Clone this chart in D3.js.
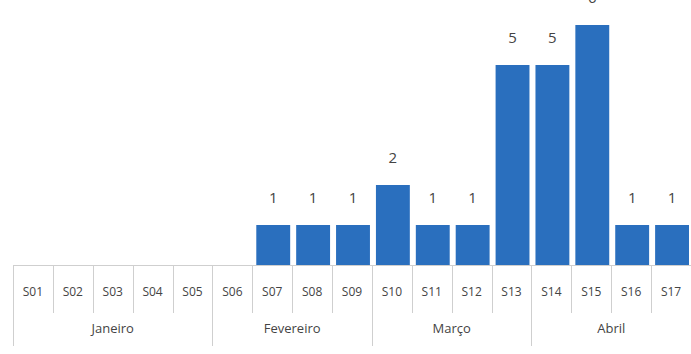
<!DOCTYPE html>
<html>
<head>
<meta charset="utf-8">
<script src="https://cdn.jsdelivr.net/npm/d3@7"></script>
<style>
  html, body { margin: 0; padding: 0; background: #fff; }
  svg { display: block; font-family: "Open Sans", "Noto Sans", sans-serif; }
</style>
</head>
<body>
<svg id="chart" width="691" height="354"></svg>
<script>
// Weekly counts, grouped by month
const weeks = ["S01","S02","S03","S04","S05","S06","S07","S08","S09","S10","S11","S12","S13","S14","S15","S16","S17"];
const counts = [0,0,0,0,0,0,1,1,1,2,1,1,5,5,6,1,1];
const months = ["Janeiro","Fevereiro","Março","Abril"];
const monthStart = ["S01","S06","S10","S14"];
const monthEnd = ["S05","S09","S13","S17"];

const svg = d3.select("#chart");
const left = 13, right = 691, baseY = 265;
const weekRowBottom = 313, monthRowBottom = 346;

const x = d3.scaleBand().domain(weeks).range([left, right]).paddingInner(0).paddingOuter(0);
const y = d3.scaleLinear().domain([0, 6]).range([baseY, 25]);

const barColor = "#2a6fbe";
const textColor = "#444444";
const lineColor = "#cfcfcf";

const barPad = 4;
const barData = weeks.map((w, i) => ({ w, v: counts[i] })).filter(d => d.v > 0);

svg.append("g").selectAll("rect")
  .data(barData)
  .join("rect")
  .attr("x", d => x(d.w) + barPad)
  .attr("width", x.bandwidth() - barPad * 1.5)
  .attr("y", d => y(d.v))
  .attr("height", d => y(0) - y(d.v))
  .attr("fill", barColor);

// value labels above each bar
svg.append("g").selectAll("text")
  .data(barData)
  .join("text")
  .attr("x", d => x(d.w) + barPad + (x.bandwidth() - barPad * 1.5) / 2)
  .attr("y", d => y(d.v) - 22)
  .attr("text-anchor", "middle")
  .attr("font-size", 15)
  .attr("fill", textColor)
  .text(d => d.v);

// category axis: baseline and week cells
const axis = svg.append("g").attr("stroke", lineColor).attr("stroke-width", 1);
axis.append("line").attr("x1", left).attr("x2", right).attr("y1", baseY + 0.5).attr("y2", baseY + 0.5);
axis.selectAll("line.week")
  .data(weeks.slice(1))
  .join("line")
  .attr("class", "week")
  .attr("x1", d => Math.round(x(d)) + 0.5)
  .attr("x2", d => Math.round(x(d)) + 0.5)
  .attr("y1", baseY)
  .attr("y2", weekRowBottom);
// month boundaries run through both label rows
const monthBounds = [left].concat(monthStart.slice(1).map(s => x(s)));
axis.selectAll("line.month")
  .data(monthBounds)
  .join("line")
  .attr("class", "month")
  .attr("x1", d => Math.round(d) + 0.5)
  .attr("x2", d => Math.round(d) + 0.5)
  .attr("y1", baseY)
  .attr("y2", monthRowBottom);

svg.append("g").selectAll("text")
  .data(weeks)
  .join("text")
  .attr("x", d => x(d) + x.bandwidth() / 2)
  .attr("y", 296)
  .attr("text-anchor", "middle")
  .attr("font-size", 12)
  .attr("fill", textColor)
  .text(d => d);

svg.append("g").selectAll("text")
  .data(months)
  .join("text")
  .attr("x", (d, i) => (x(monthStart[i]) + x(monthEnd[i]) + x.bandwidth()) / 2)
  .attr("y", 333)
  .attr("text-anchor", "middle")
  .attr("font-size", 13)
  .attr("fill", textColor)
  .text(d => d);
</script>
</body>
</html>
